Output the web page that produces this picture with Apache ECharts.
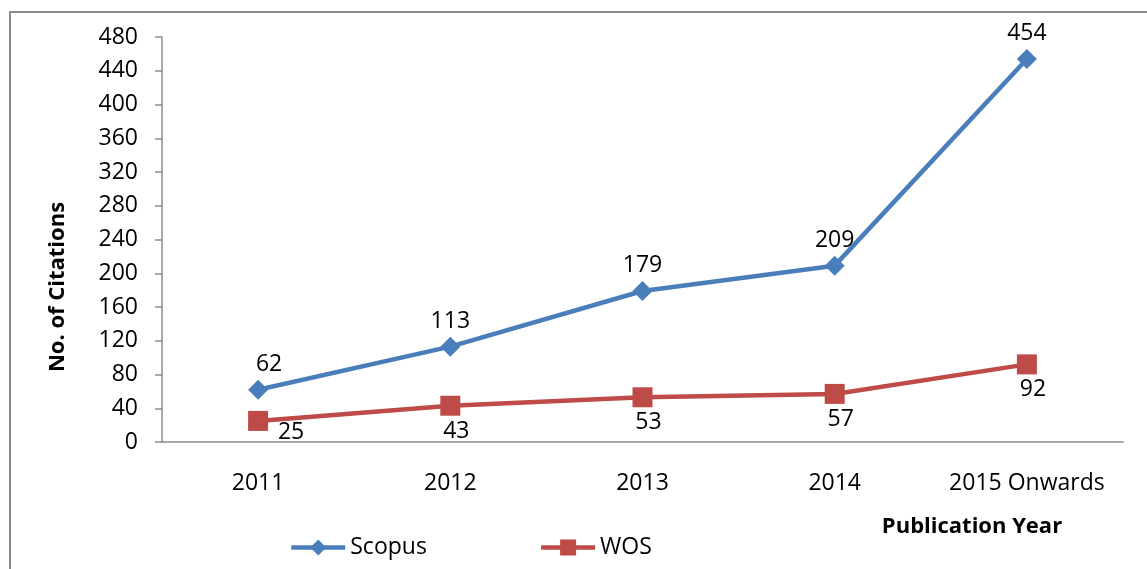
<!DOCTYPE html>
<html>
<head>
<meta charset="utf-8">
<script src="https://cdn.jsdelivr.net/npm/echarts@6/dist/echarts.min.js"></script>
<style>
  html, body { margin: 0; padding: 0; background: #fff; }
  #container { width: 1147px; height: 569px; }
</style>
</head>
<body>
<div id="container"></div>
<script>
let years = ['2011', '2012', '2013', '2014', '2015 Onwards'];
let scopus = [62, 113, 179, 209, 454];
let wos = [25, 43, 53, 57, 92];
let yTicks = { min: 0, max: 480, interval: 40 };

let dom = document.getElementById('container');
let myChart = echarts.init(dom);
let font = '"Open Sans", "Noto Sans", sans-serif';
let axisGray = '#8c8c8c';

// first labels of each series are nudged like in the original
let scopusData = scopus.map((v, i) => {
    if (i === 0) {
        return { value: v, label: { offset: [11, 0] } };
    }
    return v;
});
let wosData = wos.map((v, i) => {
    if (i === 0) {
        return { value: v, label: { offset: [33, -14] } };
    }
    return v;
});

let option = {
    animation: false,
    textStyle: { fontFamily: font },
    grid: {
        left: 162,
        right: 24,
        top: 37,
        bottom: 127
    },
    graphic: [
        {
            type: 'rect',
            shape: { x: 10, y: 12, width: 1200, height: 700 },
            style: { fill: 'none', stroke: axisGray, lineWidth: 2 },
            silent: true
        },
        {
            type: 'text',
            x: 972,
            y: 527,
            style: {
                text: 'Publication Year',
                font: 'bold 22px ' + font,
                fill: '#000',
                align: 'center',
                verticalAlign: 'middle'
            }
        },
        {
            type: 'text',
            x: 58,
            y: 287,
            rotation: Math.PI / 2,
            style: {
                text: 'No. of Citations',
                font: 'bold 22px ' + font,
                fill: '#000',
                align: 'center',
                verticalAlign: 'middle'
            }
        }
    ],
    legend: {
        left: 289,
        top: 536,
        padding: 0,
        itemWidth: 54,
        itemHeight: 20,
        itemGap: 112,
        lineStyle: { width: 4.5 },
        textStyle: { fontSize: 23, color: '#000', fontFamily: font },
        data: ['Scopus', 'WOS']
    },
    xAxis: {
        type: 'category',
        data: years,
        boundaryGap: true,
        axisLine: { lineStyle: { color: axisGray, width: 1.5 } },
        axisTick: { show: false },
        axisLabel: { fontSize: 23, color: '#000', margin: 30, interval: 0 }
    },
    yAxis: {
        type: 'value',
        min: yTicks.min,
        max: yTicks.max,
        interval: yTicks.interval,
        splitLine: { show: false },
        axisLine: { show: true, lineStyle: { color: axisGray, width: 1.5 } },
        axisTick: { show: true, length: 7, lineStyle: { color: axisGray, width: 1.5 } },
        axisLabel: { fontSize: 23, color: '#000', margin: 24 }
    },
    series: [
        {
            name: 'Scopus',
            type: 'line',
            data: scopusData,
            symbol: 'diamond',
            symbolSize: 20,
            itemStyle: { color: '#4A7EBB' },
            lineStyle: { color: '#4A7EBB', width: 4.5 },
            label: { show: true, position: 'top', fontSize: 23, color: '#000', distance: 4 }
        },
        {
            name: 'WOS',
            type: 'line',
            data: wosData,
            symbol: 'rect',
            symbolSize: 20,
            itemStyle: { color: '#BE4B48' },
            lineStyle: { color: '#BE4B48', width: 4.5 },
            label: { show: true, position: 'bottom', fontSize: 23, color: '#000', distance: 4, offset: [6, 0] }
        }
    ]
};
myChart.setOption(option);
</script>
</body>
</html>
